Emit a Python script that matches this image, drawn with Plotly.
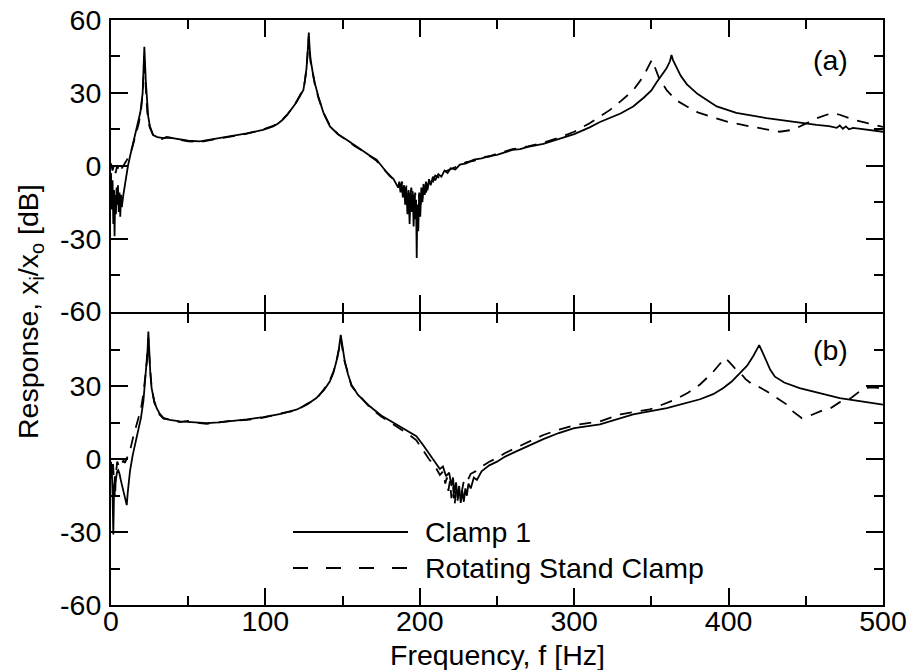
import plotly.graph_objects as go
from plotly.subplots import make_subplots

# ---------------- data ----------------
# Panel (a), Clamp 1 (solid)
freq_a_clamp1 = [0, 0.5, 1, 1.5, 2, 2.3, 2.7, 3.2, 3.6, 4, 4.5, 5, 5.5, 6, 6.5, 7, 8, 9, 10, 11,
                 12.3, 14.4, 16, 17.6, 19, 20.5, 20.9, 21.6, 22.5, 23.6, 24.1, 25.2, 27.3, 30, 34, 38,
                 45, 50, 57.6, 65, 77, 88, 98.4, 102, 105, 108, 111, 114, 117, 120, 122.5, 124.6, 125.6,
                 126.6, 127.3, 127.8, 128.1, 128.5, 129.2, 130.5, 132, 134.3, 137.5, 141.8, 147, 152.6,
                 158, 163.4, 168, 172, 176, 180.7, 183, 185, 186, 186.7, 187.5, 188.3, 189, 189.8, 190.5,
                 191.2, 192, 192.7, 193.4, 194, 194.7, 195.4, 196, 196.6, 197.2, 197.6, 198, 198.4, 199,
                 199.6, 200.3, 201, 201.7, 202.4, 203.2, 204, 205, 206, 207, 208.5, 210, 212, 214,
                 216, 218, 220, 223, 226, 230, 235, 240, 245, 250, 255, 260, 265, 270, 280, 290, 300,
                 310, 316.7, 330, 338.2, 345, 350, 353.3, 356.5, 359.8, 362, 363, 364, 366.3, 369,
                 373, 380, 392.3, 405, 424.6, 440, 457, 465, 470, 472, 474, 476, 478, 480.6, 490, 500]
resp_a_clamp1 = [-3, -18, -6, -24, -10, -29, -12, -20, -9, -16, -8, -19, -11, -21, -12, -17, -12, -8, -3, 0,
                 3.8, 9.3, 13, 17.5, 22, 29.9, 39.5, 49, 35.3, 27, 20.3, 16.2, 12.6, 11.8, 11.4, 11.6,
                 10.8, 10.3, 10, 10.8, 12, 13.3, 14.8, 15.5, 16.2, 17.3, 18.8, 20.8, 23.2, 26, 28.8, 31.2, 35,
                 40, 46, 52, 54.8, 50, 44, 39, 34, 28.5, 22, 16.2, 13, 10.7,
                 8.3, 5.9, 4, 2.5, -0.5, -4.4, -5.5, -7.5, -9, -6.5, -11, -7, -13, -8, -16,
                 -9, -20, -10, -24, -11, -19, -10.5, -25, -12, -22, -14, -38, -16, -27,
                 -11, -21, -9, -15, -7.5, -12, -6.5, -10, -5.5, -8, -4.5, -6, -3.5, -4.5,
                 -2, -3, -1, -1.5, 0.5, 1, 2.5, 3, 4, 4.5, 5.5, 6.5, 6.8, 7.8, 9, 11, 13,
                 15.8, 18, 21.5, 24.4, 28, 31, 34.3, 37, 40.1, 43, 45.6, 43.5, 40.8, 37,
                 33.5, 29.5, 24.4, 21.8, 19.6, 18.2, 16.8, 16.3, 15.6, 16.6, 15.2, 16.2, 15, 15.6, 14.8, 14]

# Panel (a), Rotating Stand Clamp (dashed)
freq_a_rotating = [0, 1, 2, 3, 4, 5, 6, 7, 8, 9, 10, 11, 12.3, 14, 16, 18, 19.5, 20.5, 21.1, 21.5, 21.9,
                   22.5, 23.5, 25, 27.3, 30, 33, 36, 40, 45, 50, 57.6, 65, 77, 88, 98.4, 102, 105, 108,
                   111, 114, 117, 120, 122.5, 124.6, 125.6, 126.6, 127.3, 127.8, 128.1, 128.5, 129.2,
                   130.5, 132, 134.3, 137.5, 141.8, 147, 152.6, 158, 163.4, 168, 172, 176, 180.7, 183, 185,
                   187, 188.5, 190, 191.5, 193, 194.5, 196, 197, 198.5, 199.5, 201, 202.5, 204, 206, 208,
                   210, 213, 216, 220, 225, 230, 235, 240, 245, 250, 260, 270, 280, 290, 300, 310, 323.2,
                   330, 338.2, 344.7, 348, 350.3, 352, 355, 360, 366, 373, 380, 388, 400, 414, 425, 433,
                   441.7, 450.6, 457, 463.5, 467.6, 472, 480.6, 490, 498, 500]
resp_a_rotating = [1, -2, 0.5, -3, 0, -1.5, 0.5, -1, 0, 1, 2, 3, 4.5, 8, 12.5, 17.5, 23, 30, 38, 46, 39,
                   31, 22, 16, 12.5, 11.8, 11, 11.9, 11.4, 10.5, 10, 9.8, 10.6, 12, 13.2, 14.9, 15.6, 16.4, 17.5,
                   19, 21, 23.4, 26.3, 29, 31.5, 35, 40, 46, 51, 53, 49, 43,
                   38.5, 33.5, 28, 22, 16.5, 13, 10.5, 8, 6, 4, 2, -1, -4, -5.5, -6,
                   -9, -6.5, -12, -8, -16, -9, -19, -11, -23, -12, -17, -8, -11, -6, -7.5,
                   -4, -5, -2.5, -1.5, 0, 1.5, 2, 3.5, 3.8, 5, 6.8, 8, 9.5, 11.5, 14, 17.5, 23,
                   26.5, 31, 36.7, 40.5, 43.6, 41, 36, 31, 27, 24.4, 22, 20.3, 18, 16.2, 14.8, 14,
                   14.8, 17.6, 19.5, 21, 21.7, 21, 19, 17.5, 16.2, 16]

# Panel (b), Clamp 1 (solid)
freq_b_clamp1 = [0, 0.5, 1, 1.5, 2, 2.5, 3, 3.5, 4, 4.7, 5.5, 6.5, 7.5, 8.5, 9.5, 10.2, 10.8, 11.5, 12.3,
                 14, 16.2, 17.8, 19.4, 21, 22, 23, 23.7, 24.2, 24.7, 25.5, 26.3, 28, 29.6, 31.5, 33.9, 38,
                 44.7, 52, 62, 70, 77, 88, 98.6, 110, 120, 127, 133, 138, 141.7, 144, 146, 147.6, 148.8,
                 150, 151.4, 153.5, 155.7, 160, 167.6, 175, 184.8, 192, 197.8, 202, 206.4, 210, 213, 215,
                 217, 219, 220.5, 221.5, 222.5, 223.5, 224.5, 225.5, 226.5, 227.5, 228.5, 229.5, 230.5,
                 231.5, 233, 235, 237, 240, 245, 250, 255, 260, 270, 280, 290, 300, 316.7, 338.2, 360,
                 381.5, 390, 396.6, 402, 407.4, 412, 416, 419.8, 422, 424.6, 427, 430, 436, 446, 460, 472,
                 486, 500]
resp_b_clamp1 = [-8, -4, -14, -31, -12, -7, -9, -6, -5, -4.5, -6, -9, -12, -15, -17.5, -18.9, -14, -9, -4.9,
                 1.5, 7.4, 12, 17, 24, 30.7, 38, 45, 52.6, 44, 35, 29.3, 24, 21, 18.8, 17, 16.2,
                 15.6, 15.2, 14.9, 15.2, 15.6, 16.4, 17.3, 18.7, 20.4, 22.5, 25.2, 28.5, 32, 35.5, 40.3, 45.5, 51.2,
                 46, 40.3, 35, 30.7, 26.5, 21.8, 18, 14.3, 11.8, 9.5, 6, 2, -1, -4, -3,
                 -7, -5.5, -11, -7.5, -14, -9.5, -16, -11, -18, -13, -17.5, -12, -15,
                 -10, -12, -7.5, -8.5, -5, -2.5, -1, 1, 2.5, 5.5, 8.3, 10.8, 12.8, 14.4, 18.5, 21,
                 24.7, 26.8, 29.3, 32, 35.5, 38.5, 42.5, 47, 44, 40.3, 36.8, 34, 31.6, 29.3, 27, 25.2,
                 23.8, 22.5]

# Panel (b), Rotating Stand Clamp (dashed)
freq_b_rotating = [0, 0.7, 1.3, 2, 2.6, 3.2, 4, 5, 6, 7, 8, 9, 10, 11, 12.3, 14.4, 16.2, 18, 19.5, 21, 22.2,
                   23.2, 23.9, 24.2, 24.6, 25.3, 26.3, 28, 29.6, 31.5, 34, 38, 44.7, 50, 56, 62, 70, 77, 88,
                   98.6, 110, 120, 127, 133, 138, 141.7, 144, 146, 147.6, 148.7, 149.9, 151.4, 153.5, 155.7,
                   160, 167.6, 175, 184.8, 192, 197.8, 202, 206, 210, 213, 215, 216.5, 217.5, 218.5, 219.5,
                   220.5, 221.5, 222.5, 223.5, 224.5, 225.5, 227, 228.5, 230, 233, 236, 240, 245, 250, 255,
                   260, 270, 280, 290, 300, 316.7, 330, 349, 358, 366, 374, 381.5, 386, 390, 394, 397.7,
                   400.5, 404, 407, 411, 415, 419, 424.6, 431, 437.5, 442, 447.3, 452, 460.5, 466, 472,
                   479.3, 485, 491, 500]
resp_b_rotating = [-1, -6, -2, -12, -16, -6, -1, -2.5, -1, -2, -0.5, -1.5, 0, 1.5, 3.5, 9.2, 13, 17, 21, 27, 33,
                   40, 47, 50, 44, 36, 29.5, 23.5, 20.5, 18.3, 16.7, 16.4, 15.3, 15.8, 15, 14.6, 15.4, 15.8, 16.2,
                   17.1, 18.9, 20.1, 22.8, 24.8, 28.9, 32.4, 36, 40, 45, 49.5, 45.5, 40, 35.5, 30.2,
                   26.8, 21.4, 17.6, 13.5, 10.6, 7.8, 4, 0, -3, -6.5, -5, -10, -7.5, -13, -9,
                   -16, -11, -19, -13, -17, -11.5, -14, -9, -10, -6, -5, -3, -1, 0.5, 2.5,
                   4, 7, 10, 12.2, 14, 15.6, 18.5, 20.5, 22.6, 24.7, 27.5, 30.8, 33.5, 36, 39, 41.7,
                   40, 37.5, 36, 33, 31, 30, 28, 25.2, 22.6, 19.5, 17, 17.8, 20, 21, 23.5,
                   25.2, 28, 29.6, 29.3]

x_ticks = [0, 100, 200, 300, 400, 500]
y_ticks_a = [-60, -30, 0, 30, 60]
y_ticks_b = [-60, -30, 0, 30]
series_names = ["Clamp 1", "Rotating Stand Clamp"]
panel_labels = ["(a)", "(b)"]

# ---------------- figure ----------------
FONT = "Liberation Sans, Arial, sans-serif"
FS = 28.5
W, H = 911, 670
ML, MR, MT, MB = 111, 28, 20, 65
PW, PH = W - ML - MR, H - MT - MB

def px_x(p):
    return (p - ML) / PW

def px_y(p):
    return (H - MB - p) / PH

fig = make_subplots(rows=2, cols=1, shared_xaxes=True, vertical_spacing=2.0 / PH)

solid = dict(color="black", width=1.8)
dashed = dict(color="black", width=1.8, dash="12px,9px")

fig.add_trace(go.Scatter(x=freq_a_clamp1, y=resp_a_clamp1, mode="lines", line=solid,
                         name=series_names[0], showlegend=False), row=1, col=1)
fig.add_trace(go.Scatter(x=freq_a_rotating, y=resp_a_rotating, mode="lines", line=dashed,
                         name=series_names[1], showlegend=False), row=1, col=1)
fig.add_trace(go.Scatter(x=freq_b_clamp1, y=resp_b_clamp1, mode="lines", line=solid,
                         name=series_names[0], showlegend=False), row=2, col=1)
fig.add_trace(go.Scatter(x=freq_b_rotating, y=resp_b_rotating, mode="lines", line=dashed,
                         name=series_names[1], showlegend=False), row=2, col=1)

axis_common = dict(showline=True, linecolor="black", linewidth=2, mirror="allticks",
                   ticks="inside", ticklen=17, tickwidth=2, tickcolor="black",
                   showgrid=False, zeroline=False, automargin=False,
                   tickfont=dict(family=FONT, size=FS, color="black"))

fig.update_xaxes(range=[0, 500], tickvals=x_ticks, ticktext=[str(v) for v in x_ticks],
                 minor=dict(ticks="inside", ticklen=9, tickwidth=2, tickcolor="black", dtick=50,
                            tick0=0, showgrid=False),
                 ticklabelstandoff=-10,
                 **axis_common)
fig.update_xaxes(showticklabels=False, row=1, col=1)

fig.update_yaxes(range=[-60, 60],
                 minor=dict(ticks="inside", ticklen=9, tickwidth=2, tickcolor="black", dtick=15,
                            tick0=0, showgrid=False),
                 ticklabelstandoff=2,
                 **axis_common)
fig.update_yaxes(tickvals=y_ticks_a, ticktext=[str(v) for v in y_ticks_a], row=1, col=1)
fig.update_yaxes(tickvals=y_ticks_b, ticktext=[str(v) for v in y_ticks_b], row=2, col=1)

annotations = [
    dict(text="Response, x<sub>i</sub>/x<sub>o</sub> [dB]", xref="paper", yref="paper",
         x=px_x(30), y=px_y(312), textangle=-90, showarrow=False, xanchor="center", yanchor="middle",
         font=dict(family=FONT, size=FS, color="black")),
    dict(text="Frequency, f [Hz]", xref="paper", yref="paper", x=0.5, y=px_y(655),
         showarrow=False, xanchor="center", yanchor="middle",
         font=dict(family=FONT, size=FS, color="black")),
    dict(text=panel_labels[0], xref="paper", yref="paper", x=px_x(830), y=px_y(60),
         showarrow=False, xanchor="center", yanchor="middle",
         font=dict(family=FONT, size=FS, color="black")),
    dict(text=panel_labels[1], xref="paper", yref="paper", x=px_x(830), y=px_y(350),
         showarrow=False, xanchor="center", yanchor="middle",
         font=dict(family=FONT, size=FS, color="black")),
    dict(text=series_names[0], xref="paper", yref="paper", x=px_x(423), y=px_y(532),
         showarrow=False, xanchor="left", yanchor="middle",
         font=dict(family=FONT, size=FS, color="black")),
    dict(text=series_names[1], xref="paper", yref="paper", x=px_x(423), y=px_y(568),
         showarrow=False, xanchor="left", yanchor="middle",
         font=dict(family=FONT, size=FS, color="black")),
]

shapes = [
    dict(type="line", xref="paper", yref="paper", x0=px_x(293), x1=px_x(408),
         y0=px_y(532), y1=px_y(532), line=dict(color="black", width=2)),
    dict(type="line", xref="paper", yref="paper", x0=px_x(293), x1=px_x(408),
         y0=px_y(568), y1=px_y(568), line=dict(color="black", width=2, dash="15px,18px")),
]

fig.update_layout(width=W, height=H, margin=dict(l=ML, r=MR, t=MT, b=MB, autoexpand=False),
                  paper_bgcolor="white", plot_bgcolor="white", showlegend=False,
                  annotations=annotations, shapes=shapes,
                  font=dict(family=FONT, size=FS, color="black"))

fig.write_html("out.html", config={"displayModeBar": False},
               post_script="document.body.style.margin='0';document.body.style.overflow='hidden';")
